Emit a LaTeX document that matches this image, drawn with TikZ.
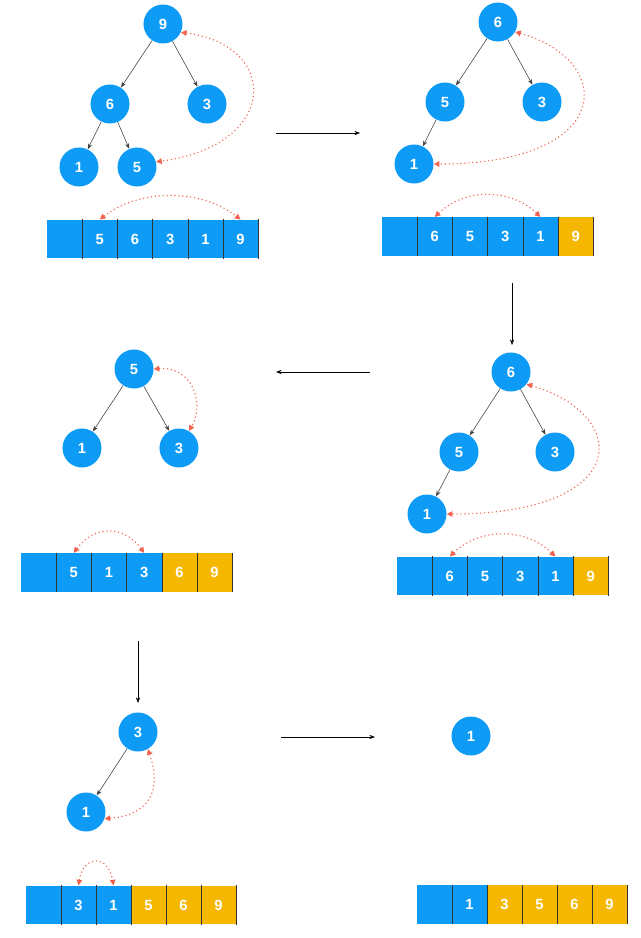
\documentclass[tikz,border=0pt]{standalone}
\usepackage{fontspec}
\setsansfont{Liberation Sans}
\usetikzlibrary{arrows.meta}
\definecolor{heapblue}{RGB}{14,155,245}
\definecolor{doneyellow}{RGB}{245,183,0}
\definecolor{swapred}{RGB}{242,98,78}
\begin{document}
\begin{tikzpicture}[
  x=0.025cm, y=-0.025cm,
  every node/.style={font=\sffamily\bfseries\fontsize{10.5}{12}\selectfont, text=white},
  key/.style={circle, fill=heapblue, minimum size=0.975cm, inner sep=0pt},
  cell/.style={rectangle, fill=heapblue, minimum width=0.88cm, minimum height=0.9625cm, inner sep=0pt},
  sorted/.style={cell, fill=doneyellow},
  divider/.style={black!80, line width=0.7pt},
  edge/.style={-{Stealth[length=4pt,width=3pt]}, black!75, thin},
  swap/.style={{Triangle[length=4pt,width=4pt]}-{Triangle[length=4pt,width=4pt]}, swapred, dotted, thick},
  stage/.style={-{Stealth[length=4pt,width=3pt]}, black, thin}
]
  \useasboundingbox (0,0) rectangle (640,938);

  % first heap
  \node[key] (t1n9) at (163,24) {9};
  \node[key] (t1n6) at (110,104) {6};
  \node[key] (t1n3) at (207,104) {3};
  \node[key] (t1n1) at (79,167) {1};
  \node[key] (t1n5) at (137,167) {5};
  \draw[edge] (t1n9) -- (t1n6);
  \draw[edge] (t1n9) -- (t1n3);
  \draw[edge] (t1n6) -- (t1n1);
  \draw[edge] (t1n6) -- (t1n5);
  \draw[swap] (t1n9.-25) .. controls (280,45) and (280,145) .. (t1n5.15);
  \foreach \v/\s [count=\i] in {/cell,5/cell,6/cell,3/cell,1/cell,9/cell}
    \node[\s] (a1c\i) at ({47+35.2*(\i-0.5)},239) {\v};
  \foreach \i in {1,...,6}
    \draw[divider] (a1c\i.north east) -- (a1c\i.south east);
  \draw[swap] (a1c2.north) .. controls +(40,-31) and +(-40,-31) .. (a1c6.north);

  % second heap
  \node[key] (t2n6) at (498,22) {6};
  \node[key] (t2n5) at (445,102) {5};
  \node[key] (t2n3) at (542,102) {3};
  \node[key] (t2n1) at (414,164) {1};
  \draw[edge] (t2n6) -- (t2n5);
  \draw[edge] (t2n6) -- (t2n3);
  \draw[edge] (t2n5) -- (t2n1);
  \draw[swap] (t2n6.-30) .. controls (616,60) and (616,164) .. (t2n1.east);
  \foreach \v/\s [count=\i] in {/cell,6/cell,5/cell,3/cell,1/cell,9/sorted}
    \node[\s] (a2c\i) at ({382+35.2*(\i-0.5)},236.5) {\v};
  \foreach \i in {1,...,6}
    \draw[divider] (a2c\i.north east) -- (a2c\i.south east);
  \draw[swap] (a2c2.north) .. controls +(30,-29) and +(-30,-29) .. (a2c5.north);

  % third heap
  \node[key] (t3n6) at (511,372) {6};
  \node[key] (t3n5) at (459,452) {5};
  \node[key] (t3n3) at (555,452) {3};
  \node[key] (t3n1) at (427,514) {1};
  \draw[edge] (t3n6) -- (t3n5);
  \draw[edge] (t3n6) -- (t3n3);
  \draw[edge] (t3n5) -- (t3n1);
  \draw[swap] (t3n6.-38) .. controls (632,415) and (632,514) .. (t3n1.east);
  \foreach \v/\s [count=\i] in {/cell,6/cell,5/cell,3/cell,1/cell,9/sorted}
    \node[\s] (a3c\i) at ({397+35.2*(\i-0.5)},576) {\v};
  \foreach \i in {1,...,6}
    \draw[divider] (a3c\i.north east) -- (a3c\i.south east);
  \draw[swap] (a3c2.north) .. controls +(30,-29) and +(-30,-29) .. (a3c5.north);

  % fourth heap
  \node[key] (t4n5) at (134,369) {5};
  \node[key] (t4n1) at (82,448) {1};
  \node[key] (t4n3) at (179,448) {3};
  \draw[edge] (t4n5) -- (t4n1);
  \draw[edge] (t4n5) -- (t4n3);
  \draw[swap] (t4n5.east) .. controls (193,366) and (205,405) .. (t4n3.60);
  \foreach \v/\s [count=\i] in {/cell,5/cell,1/cell,3/cell,6/sorted,9/sorted}
    \node[\s] (a4c\i) at ({21+35.2*(\i-0.5)},572.5) {\v};
  \foreach \i in {1,...,6}
    \draw[divider] (a4c\i.north east) -- (a4c\i.south east);
  \draw[swap] (a4c2.north) .. controls +(20,-28) and +(-20,-28) .. (a4c4.north);

  % fifth heap
  \node[key] (t5n3) at (138,732) {3};
  \node[key] (t5n1) at (86,812) {1};
  \draw[edge] (t5n3) -- (t5n1);
  \draw[swap] (t5n3.-60) .. controls (162,790) and (150,815) .. (t5n1.-20);
  \foreach \v/\s [count=\i] in {/cell,3/cell,1/cell,5/sorted,6/sorted,9/sorted}
    \node[\s] (a5c\i) at ({26+35*(\i-0.5)},905) {\v};
  \foreach \i in {1,...,6}
    \draw[divider] (a5c\i.north east) -- (a5c\i.south east);
  \draw[swap] (a5c2.north) .. controls +(5,-31) and +(-5,-31) .. (a5c3.north);

  % last heap
  \node[key] (t6n1) at (471,736) {1};
  \foreach \v/\s [count=\i] in {/cell,1/cell,3/sorted,5/sorted,6/sorted,9/sorted}
    \node[\s] (a6c\i) at ({417+35*(\i-0.5)},904.5) {\v};
  \foreach \i in {1,...,6}
    \draw[divider] (a6c\i.north east) -- (a6c\i.south east);

  % steps between heaps
  \coordinate (g1s) at (276,133);
  \coordinate (g1e) at (360,133);
  \coordinate (g2s) at (512,283);
  \coordinate (g2e) at (512,345);
  \coordinate (g3s) at (370,372);
  \coordinate (g3e) at (276,372);
  \coordinate (g4s) at (138,641);
  \coordinate (g4e) at (138,703);
  \coordinate (g5s) at (281,737);
  \coordinate (g5e) at (375,737);
  \draw[stage] (g1s) -- (g1e);
  \draw[stage] (g2s) -- (g2e);
  \draw[stage] (g3s) -- (g3e);
  \draw[stage] (g4s) -- (g4e);
  \draw[stage] (g5s) -- (g5e);
\end{tikzpicture}
\end{document}
